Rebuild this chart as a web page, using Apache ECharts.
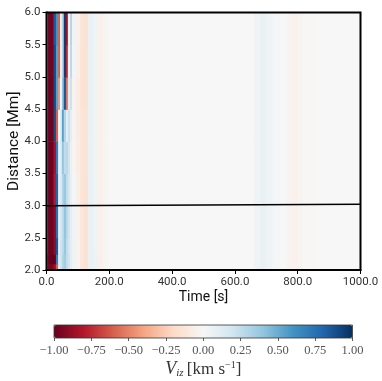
<!DOCTYPE html>
<html><head><meta charset="utf-8">
<style>html,body{margin:0;padding:0;background:#fff}#c{width:382px;height:381px}</style>
<script src="https://cdn.jsdelivr.net/npm/echarts@6/dist/echarts.min.js"></script>
</head><body><div id="c"></div>
<script>
const timeEdges = [0,5,8,22,30,37,43,49,55,62,68,75,81,94,107,119,132,148,164,180,196,660,680,700,720,745,765,780,800,815,860,1000];
const distanceEdges = [2.0,2.1,2.25,2.5,3.0,3.5,4.0,4.5,5.0,5.5,6.0];
const band2p00 = [-0.7,-1,-0.95,-0.85,-0.6,0.1,0.2,0.3,0.35,0.25,0.2,0.1,0.05,-0.03,-0.12,-0.15,0.07,0.06,-0.05,-0.02];
const band2p10 = [-0.7,-1,-1,-1,0.7,0.1,0.2,0.3,0.35,0.25,0.2,0.1,0.05,-0.03,-0.12,-0.15,0.07,0.06,-0.05,-0.02];
const band2p25 = [-0.6,-1,-0.98,-0.9,0.85,0.1,0.2,0.25,0.38,0.25,0.18,0.1,0.05,-0.03,-0.12,-0.15,0.07,0.05,-0.05,-0.02];
const band2p50 = [0.6,-1,-0.97,-0.9,0.75,0.1,0.18,0.25,0.4,0.28,0.2,0.1,0.04,-0.04,-0.12,-0.15,0.07,0.05,-0.05,-0.02];
const band3p00 = [0.6,-1,-0.98,-0.8,0.8,0.1,0.13,0.3,0.38,0.25,0.18,0.08,0.02,-0.06,-0.13,-0.15,0.07,0.05,-0.05,-0.02];
const band3p50 = [0.6,-1,-0.98,-0.85,0.7,0.08,0.12,0.4,0.25,0.28,0.2,0.07,-0.03,-0.07,-0.13,-0.14,0.07,0.05,-0.05,-0.02];
const band4p00 = [0.6,-1,-0.98,0.9,-0.6,0.02,0.12,0.55,0.3,0.1,0.22,0.1,-0.03,-0.08,-0.13,-0.14,0.07,0.05,-0.05,-0.02];
const band4p50 = [0.6,-1,-0.98,0.9,0.55,-0.45,0.02,0.4,0.85,-0.55,0.12,0.22,-0.04,-0.08,-0.14,-0.15,0.07,0.05,-0.05,-0.02];
const band5p00 = [0.6,-1,-0.97,0.9,0.55,-0.6,-0.08,0.3,0.95,-0.75,-0.03,0.28,0.03,-0.06,-0.14,-0.15,0.07,0.05,-0.05,-0.02];
const band5p50 = [0.6,-1,-0.97,0.85,0.6,-0.6,-0.08,0.3,0.95,-0.85,-0.05,0.3,0.04,-0.05,-0.13,-0.15,0.07,0.05,-0.05,-0.02];
const tailValues = [0,0.04,0.07,0.05,0.02,0,-0.03,-0.04,-0.03,-0.01,0];
const bands = [band2p00,band2p10,band2p25,band2p50,band3p00,band3p50,band4p00,band4p50,band5p00,band5p50];
const lineTimes = [0,1000];
const lineDistances = [3.0,3.02];
const rdbu = ['#67001f','#b2182b','#d6604d','#f4a582','#fddbc7','#f7f7f7','#d1e5f0','#92c5de','#4393c3','#2166ac','#053061'];
const sans = 'Roboto,"Liberation Sans",sans-serif';
const serif = '"Liberation Serif",serif';

const cells = [];
bands.forEach((b, r) => {
  b.concat(tailValues).forEach((v, c) => {
    cells.push([timeEdges[c], timeEdges[c+1], distanceEdges[r], distanceEdges[r+1], v]);
  });
});

const chart = echarts.init(document.getElementById('c'), null, {renderer:'canvas'});
const axisStyle = {lineStyle:{color:'#000',width:2}};
chart.setOption({
  animation:false,
  backgroundColor:'#fff',
  grid:[
    {left:46.5,top:12.5,width:314,height:257.5,show:true,borderColor:'#000',borderWidth:2,backgroundColor:'transparent',z:5,outerBoundsMode:'none'},
    {left:54,top:325,width:298.5,height:13,show:true,borderColor:'#333',borderWidth:0.8,backgroundColor:'transparent',z:5,outerBoundsMode:'none'}
  ],
  xAxis:[
    {type:'value',gridIndex:0,min:0,max:1000,interval:200,name:'Time [s]',nameLocation:'middle',nameGap:20,nameMoveOverlap:false,
     nameTextStyle:{fontFamily:sans,fontSize:14,color:'#111'},
     axisLine:axisStyle,axisTick:{length:4,lineStyle:{color:'#000',width:1}},splitLine:{show:false},
     axisLabel:{fontFamily:sans,fontSize:11.5,color:'#333',margin:6,formatter:v=>v.toFixed(1)}},
    {type:'value',gridIndex:1,min:-1,max:1,interval:0.25,
     name:'{v|V}{s|iz} {b|[km s}{p|−1}{b|]}',nameLocation:'middle',nameGap:22,
     nameTextStyle:{rich:{
       v:{fontFamily:serif,fontStyle:'italic',fontSize:18,color:'#333'},
       s:{fontFamily:serif,fontStyle:'italic',fontSize:11,color:'#333',padding:[8,0,0,0]},
       b:{fontFamily:serif,fontSize:17,color:'#333'},
       p:{fontFamily:serif,fontSize:10,color:'#333',padding:[0,0,8,0]}
     }},
     axisLine:{show:false},axisTick:{length:3,lineStyle:{color:'#333',width:0.8}},splitLine:{show:false},
     axisLabel:{fontFamily:serif,fontSize:12.5,color:'#555',margin:6,hideOverlap:false,
       formatter:v=>v.toFixed(2).replace('-','−')}}
  ],
  yAxis:[
    {type:'value',gridIndex:0,min:2,max:6,interval:0.5,name:'Distance [Mm]',nameLocation:'middle',nameGap:24,nameMoveOverlap:false,
     nameTextStyle:{fontFamily:sans,fontSize:15.5,color:'#111'},
     axisLine:axisStyle,axisTick:{length:4,lineStyle:{color:'#000',width:1}},splitLine:{show:false},
     axisLabel:{fontFamily:sans,fontSize:11.5,color:'#333',margin:6,formatter:v=>v.toFixed(1)}},
    {type:'value',gridIndex:1,min:0,max:1,show:false}
  ],
  visualMap:{type:'continuous',seriesIndex:0,dimension:4,min:-1,max:1,calculable:false,realtime:false,
    orient:'horizontal',left:54,top:325,itemWidth:13,itemHeight:298.5,text:null,showLabel:false,padding:0,
    inRange:{color:rdbu},textStyle:{fontSize:0},formatter:()=>''},
  series:[
    {type:'custom',xAxisIndex:0,yAxisIndex:0,data:cells,clip:true,silent:true,
     encode:{x:[0,1],y:[2,3]},
     renderItem:(params,api)=>{
       const a = api.coord([api.value(0),api.value(3)]);
       const b = api.coord([api.value(1),api.value(2)]);
       return {type:'rect',shape:{x:a[0],y:a[1],width:b[0]-a[0]+0.6,height:b[1]-a[1]+0.6},style:{fill:api.visual('color')}};
     }},
    {type:'line',xAxisIndex:0,yAxisIndex:0,data:lineTimes.map((t,i)=>[t,lineDistances[i]]),symbol:'none',silent:true,z:4,
     lineStyle:{color:'#000',width:1.5}}
  ]
});
</script></body></html>
